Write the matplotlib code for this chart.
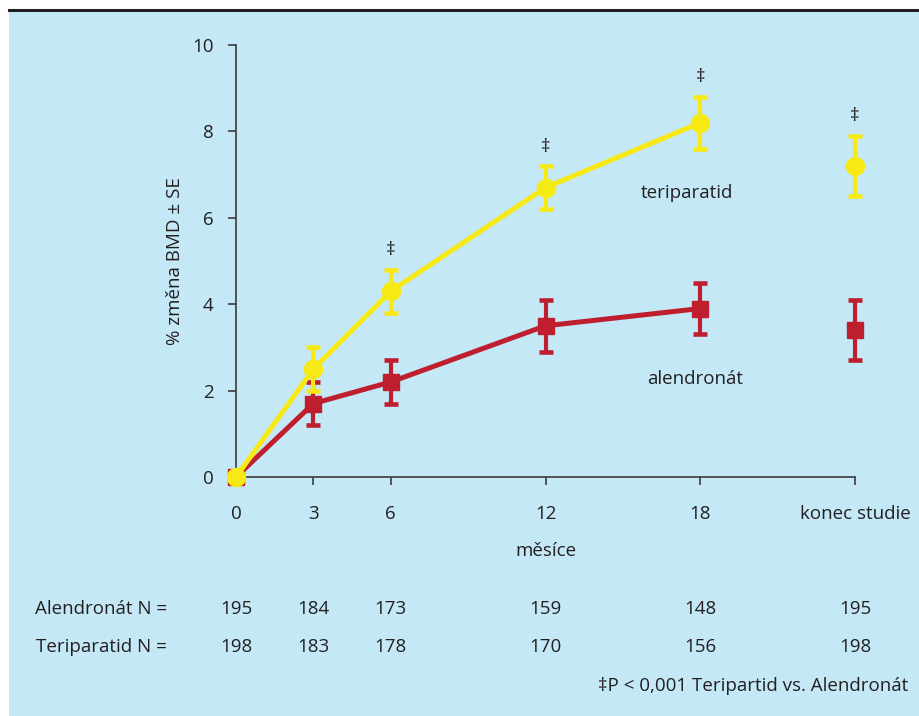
import matplotlib.pyplot as plt
from matplotlib.patches import Rectangle
import numpy as np

plt.rcParams['font.family'] = ['Open Sans', 'DejaVu Sans']

# months (konec studie placed at 24)
months = [0, 3, 6, 12, 18, 24]
tick_labels = ['0', '3', '6', '12', '18', 'konec studie']

teri = [0, 2.5, 4.3, 6.7, 8.2, 7.2]
teri_se = [0, 0.5, 0.5, 0.5, 0.6, 0.7]
alen = [0, 1.7, 2.2, 3.5, 3.9, 3.4]
alen_se = [0, 0.5, 0.5, 0.6, 0.6, 0.7]

sig = [False, False, True, True, True, True]

n_alen = [195, 184, 173, 159, 148, 195]
n_teri = [198, 183, 178, 170, 156, 198]

bg = '#c5e8f7'
yellow = '#f7ea14'
red = '#be1e2d'
txt = '#231f20'
fs = 13.5

fig = plt.figure(figsize=(9.2, 7.16), dpi=100)
fig.patches.append(Rectangle((9 / 920, 0), 1, 1 - 11 / 716, transform=fig.transFigure,
                             facecolor=bg, edgecolor='none', zorder=-10))
fig.add_artist(plt.Line2D([9 / 920, 1], [1 - 10 / 716, 1 - 10 / 716], color='#231f20', lw=2.2))

ax = fig.add_axes([236 / 920, (716 - 477) / 716, (855 - 236) / 920, (477 - 45) / 716])
ax.set_facecolor('none')
ax.set_xlim(0, 24)
ax.set_ylim(0, 10)

# red (alendronat)
ax.plot(months[:5], alen[:5], color=red, lw=3.6, zorder=3, clip_on=False)
ax.errorbar(months[1:], alen[1:], yerr=alen_se[1:], fmt='s', color=red, ms=11,
            elinewidth=3, capsize=4.7, capthick=3.3, zorder=3, clip_on=False)
ax.plot([0], [0], 's', color=red, ms=11, zorder=3, clip_on=False)

# yellow (teriparatid)
ax.plot(months[:5], teri[:5], color=yellow, lw=3.6, zorder=4, clip_on=False)
ax.errorbar(months[1:], teri[1:], yerr=teri_se[1:], fmt='o', color=yellow, ms=13,
            elinewidth=3, capsize=4.7, capthick=3.3, zorder=4, clip_on=False)
ax.plot([0], [0], 'o', color=yellow, ms=13, zorder=5, clip_on=False)

for m, v, e, s in zip(months, teri, teri_se, sig):
    if s:
        ax.text(m, v + e + 0.45, '\u2021', ha='center', va='center', fontsize=fs, color=txt)

ax.text(17.5, 6.57, 'teriparatid', ha='center', va='center', fontsize=fs, color=txt)
ax.text(17.8, 2.27, 'alendronát', ha='center', va='center', fontsize=fs, color=txt)

ax.spines[['right', 'top']].set_visible(False)
for sp in ['left', 'bottom']:
    ax.spines[sp].set_color('#3a3a3a')
    ax.spines[sp].set_linewidth(1.2)
ax.set_xticks(months)
ax.set_xticklabels(tick_labels)
ax.set_yticks(np.arange(0, 11, 2))
ax.tick_params(colors='#3a3a3a', labelcolor=txt, labelsize=fs, length=6, width=1.2, pad=14)
ax.tick_params(axis='y', pad=10)
ax.set_xlabel('měsíce', fontsize=fs, color=txt, labelpad=14)
ax.set_ylabel('% změna BMD ± SE', fontsize=fs, color=txt, labelpad=6)

# N table below the axis
trans = ax.get_xaxis_transform()
for m, a, t in zip(months, n_alen, n_teri):
    ax.text(m, -(609 - 477) / 432, str(a), transform=trans, ha='center', va='center',
            fontsize=fs, color=txt, clip_on=False)
    ax.text(m, -(647 - 477) / 432, str(t), transform=trans, ha='center', va='center',
            fontsize=fs, color=txt, clip_on=False)
fig.text(167 / 920, 1 - 609 / 716, 'Alendronát N =', ha='right', va='center', fontsize=fs, color=txt)
fig.text(167 / 920, 1 - 647 / 716, 'Teriparatid N =', ha='right', va='center', fontsize=fs, color=txt)
fig.text(908 / 920, 1 - 686 / 716, '\u2021P < 0,001 Teripartid vs. Alendronát', ha='right', va='center',
         fontsize=fs, color=txt)

fig.savefig('out.png', dpi=100)
